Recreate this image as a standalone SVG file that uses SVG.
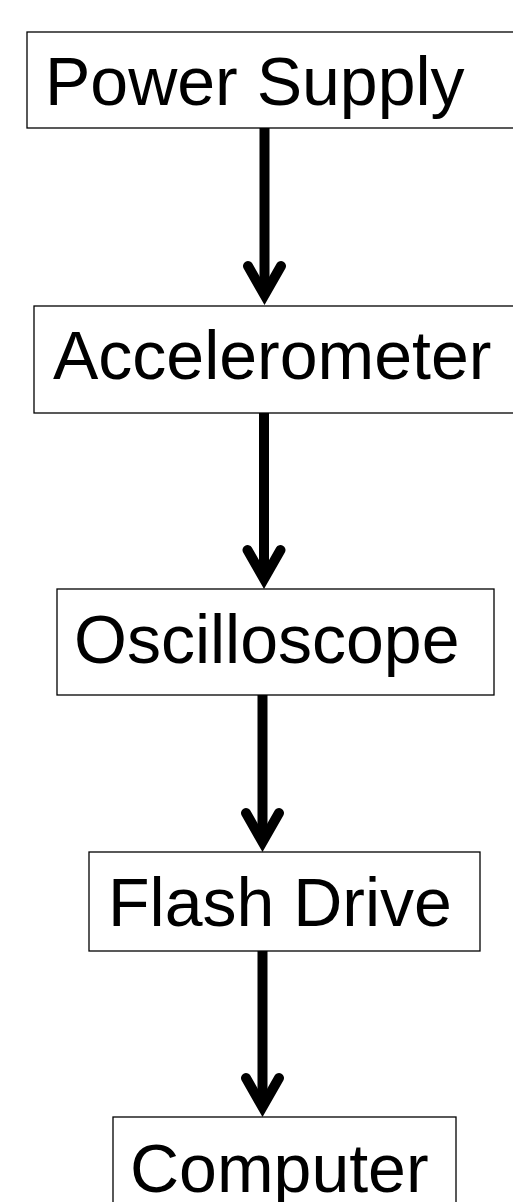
<svg xmlns="http://www.w3.org/2000/svg" width="513" height="1202" viewBox="0 0 513 1202">
<style>
.box{fill:#fff;stroke:#000;stroke-width:1.3}
.lbl{font-family:"Liberation Sans",Arial,sans-serif;font-size:68px;fill:#000}
.shaft{stroke:#000;stroke-width:10;fill:none}
.head{stroke:#000;stroke-width:10;fill:none;stroke-linecap:round;stroke-linejoin:miter;stroke-miterlimit:10}
</style>
<rect width="513" height="1202" fill="#fff"/>
<g id="connectors">
<g id="e1"><line class="shaft" x1="264.5" y1="128" x2="264.5" y2="290"/><polyline class="head" points="248,266 264.5,295 281,266"/></g>
<g id="e2"><line class="shaft" x1="264" y1="413" x2="264" y2="574"/><polyline class="head" points="247.5,550 264,579 280.5,550"/></g>
<g id="e3"><line class="shaft" x1="262.5" y1="695" x2="262.5" y2="837"/><polyline class="head" points="246,813 262.5,842 279,813"/></g>
<g id="e4"><line class="shaft" x1="262.5" y1="951" x2="262.5" y2="1102"/><polyline class="head" points="246,1078 262.5,1107 279,1078"/></g>
</g>
<g id="power-supply"><rect class="box" x="27" y="32" width="500" height="96"/><text class="lbl" x="45" y="105">Power Supply</text></g>
<g id="accelerometer"><rect class="box" x="34" y="306" width="500" height="107"/><text class="lbl" x="53" y="379">Accelerometer</text></g>
<g id="oscilloscope"><rect class="box" x="57" y="589" width="437" height="106"/><text class="lbl" x="74" y="663">Oscilloscope</text></g>
<g id="flash-drive"><rect class="box" x="89" y="852" width="391" height="99"/><text class="lbl" x="108" y="926">Flash Drive</text></g>
<g id="computer"><rect class="box" x="113" y="1117" width="343" height="100"/><text class="lbl" x="130" y="1192">Computer</text></g>
</svg>
